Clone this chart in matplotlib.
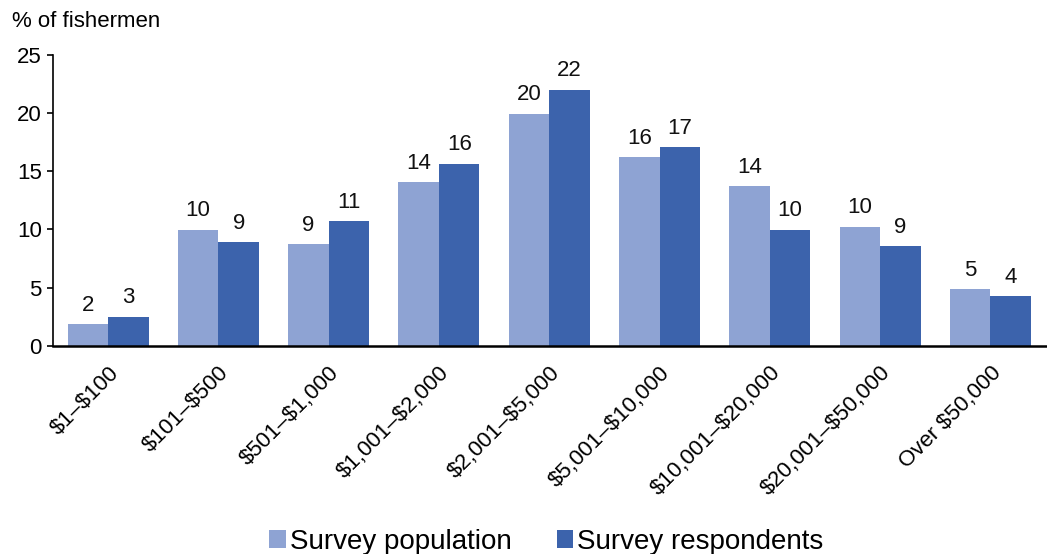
"""
Grouped bar chart: share of fishermen by catch value band,
survey population vs survey respondents.
"""

import matplotlib
matplotlib.use("Agg")
import matplotlib.pyplot as plt
import numpy as np

plt.rcParams["font.family"] = ["Liberation Sans", "DejaVu Sans"]
plt.rcParams["text.parse_math"] = False  # labels contain literal dollar signs

CATEGORIES = [
    "$1–$100",
    "$101–$500",
    "$501–$1,000",
    "$1,001–$2,000",
    "$2,001–$5,000",
    "$5,001–$10,000",
    "$10,001–$20,000",
    "$20,001–$50,000",
    "Over $50,000",
]

# % of fishermen in each band
POPULATION = [1.86, 9.97, 8.7, 14.05, 19.95, 16.2, 13.73, 10.22, 4.88]
RESPONDENTS = [2.5, 8.9, 10.7, 15.64, 22.0, 17.07, 9.97, 8.54, 4.23]

SERIES_NAMES = ["Survey population", "Survey respondents"]
Y_TICKS = [0, 5, 10, 15, 20, 25]

POP_COLOR = "#8EA3D3"
RESP_COLOR = "#3C63AC"


def value_label(v):
    # round half up, as the spreadsheet labels do
    return f"{int(np.floor(v + 0.5))}"


def main():
    fig = plt.figure(figsize=(10.47, 5.54), dpi=100)
    ax = fig.add_axes([0.0506, 0.376, 0.948, 0.525])

    x = np.arange(len(CATEGORIES))
    width = 0.367

    bars_pop = ax.bar(x - width / 2, POPULATION, width, color=POP_COLOR,
                      label=SERIES_NAMES[0])
    bars_resp = ax.bar(x + width / 2, RESPONDENTS, width, color=RESP_COLOR,
                       label=SERIES_NAMES[1])

    for bars, values in [(bars_pop, POPULATION), (bars_resp, RESPONDENTS)]:
        for bar, v in zip(bars, values):
            ax.annotate(value_label(v),
                        xy=(bar.get_x() + bar.get_width() / 2, v),
                        xytext=(0, 6), textcoords="offset points",
                        ha="center", va="bottom", fontsize=16, color="#111111")

    ax.set_xlim(-0.5, len(CATEGORIES) - 0.5)
    ax.set_ylim(0, 25)
    ax.set_yticks(Y_TICKS)
    ax.tick_params(axis="y", labelsize=16, length=4, width=1.2, direction="out", pad=4)
    ax.set_xticks(x)
    ax.set_xticklabels(CATEGORIES, rotation=45, ha="right", rotation_mode="anchor",
                       fontsize=16)
    ax.tick_params(axis="x", length=0, pad=12)

    for side in ["top", "right"]:
        ax.spines[side].set_visible(False)
    ax.spines["left"].set_linewidth(1.2)
    ax.spines["bottom"].set_linewidth(1.8)

    fig.text(0.011, 0.962, "% of fishermen", fontsize=16, ha="left", va="center")

    fig.legend(loc="center", bbox_to_anchor=(0.522, 0.022), ncol=2, frameon=False,
               fontsize=20, handlelength=0.6, handleheight=0.6, handletextpad=0.15,
               columnspacing=1.6, borderpad=0.1)

    fig.savefig("out.png", dpi=100)
    plt.close(fig)


if __name__ == "__main__":
    main()
